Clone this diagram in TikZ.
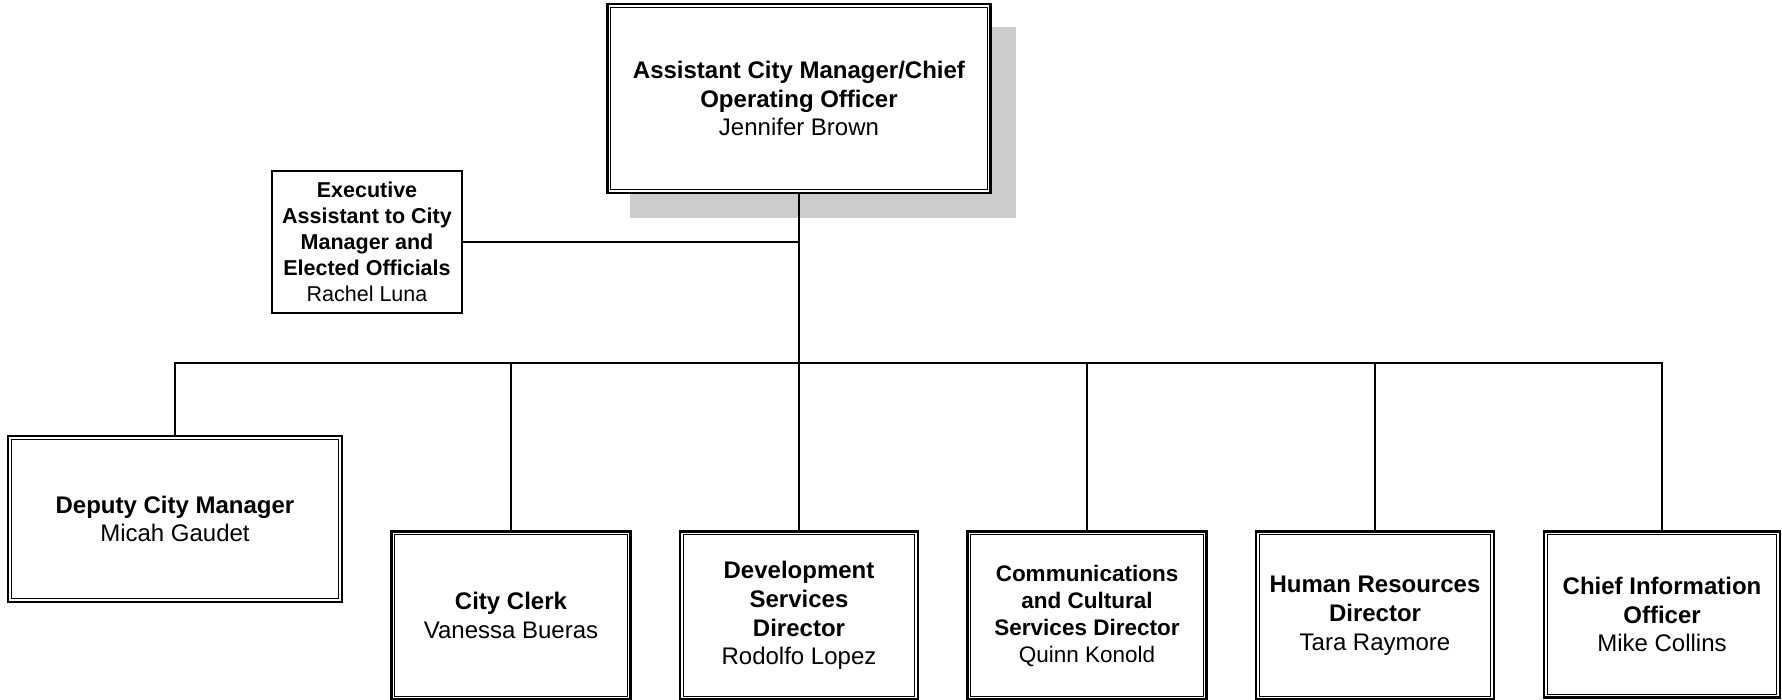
\documentclass[tikz,border=0pt]{standalone}
\usepackage{fontspec}
\setmainfont{Liberation Sans}
\definecolor{shadowgray}{RGB}{204,204,204}
\begin{document}
\begin{tikzpicture}[x=1pt,y=-1pt,
  dbox/.style={draw, line width=2.4pt, fill=white, inner sep=0pt, align=center,
    font=\fontsize{24}{28.8}\selectfont},
  sbox/.style={draw, line width=1.8pt, fill=white, inner sep=0pt, align=center,
    font=\fontsize{21.5}{26}\selectfont},
  link/.style={line width=1.6pt},
  innerline/.style={line width=1.3pt}]
\useasboundingbox (0,0) rectangle (1782,699);
% shadow
\fill[shadowgray] (630,27) rectangle (1016,218);
% boxes
\node[dbox, minimum width=383pt, minimum height=189pt] (top) at (799,98.5)
  {\textbf{Assistant City Manager/Chief}\\\textbf{Operating Officer}\\Jennifer Brown};
\node[sbox, minimum width=190pt, minimum height=142pt] (exec) at (367,242)
  {\textbf{Executive}\\\textbf{Assistant to City}\\\textbf{Manager and}\\\textbf{Elected Officials}\\Rachel Luna};
\node[dbox, minimum width=334pt, minimum height=166pt] (dep) at (175,519)
  {\textbf{Deputy City Manager}\\Micah Gaudet};
\node[dbox, minimum width=239pt, minimum height=168pt] (clerk) at (511,615.5)
  {\textbf{City Clerk}\\Vanessa Bueras};
\node[dbox, minimum width=238pt, minimum height=168pt] (dev) at (799,615.5)
  {\textbf{Development}\\\textbf{Services}\\\textbf{Director}\\Rodolfo Lopez};
\node[dbox, minimum width=239pt, minimum height=168pt, font=\fontsize{22.5}{27}\selectfont] (comm) at (1087,615.5)
  {\textbf{Communications}\\\textbf{and Cultural}\\\textbf{Services Director}\\Quinn Konold};
\node[dbox, minimum width=238pt, minimum height=168pt] (hr) at (1375,615.5)
  {\textbf{Human Resources}\\\textbf{Director}\\Tara Raymore};
\node[dbox, minimum width=236pt, minimum height=166pt] (cio) at (1662,614.5)
  {\textbf{Chief Information}\\\textbf{Officer}\\Mike Collins};
% inner lines of double borders
\foreach \n in {top,dep,clerk,dev,comm,hr,cio}
  \draw[innerline] ([shift={(4.5,4.5)}]\n.north west) rectangle ([shift={(-4.5,-4.5)}]\n.south east);
% connectors
\coordinate (bus) at (799,363);
\draw[link] (top.south) -- (dev.north);
\draw[link] (exec.east) -- (exec.east -| top.south);
\draw[link] (dep.north) -- (dep.north |- bus) -- (cio.north |- bus) -- (cio.north);
\draw[link] (clerk.north) -- (clerk.north |- bus);
\draw[link] (comm.north) -- (comm.north |- bus);
\draw[link] (hr.north) -- (hr.north |- bus);
\end{tikzpicture}
\end{document}
